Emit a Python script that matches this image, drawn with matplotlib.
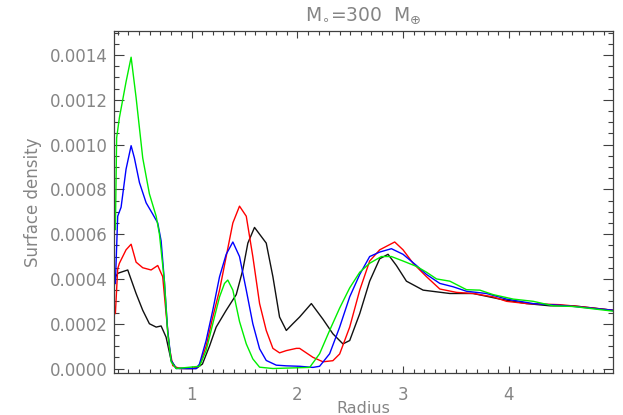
import matplotlib
matplotlib.use("Agg")
import matplotlib.pyplot as plt
from matplotlib.ticker import MultipleLocator, FormatStrFormatter
import numpy as np

# ---- data ----
radius_black = [0.267, 0.28, 0.30, 0.33, 0.394, 0.473, 0.536, 0.599, 0.663, 0.71, 0.757,
                0.805, 0.852, 0.95, 1.042, 1.101, 1.168, 1.231, 1.326, 1.421, 1.483, 1.531,
                1.594, 1.705, 1.768, 1.831, 1.895, 1.957, 2.021, 2.132, 2.242, 2.336, 2.431,
                2.495, 2.590, 2.684, 2.779, 2.858, 2.937, 3.032, 3.19, 3.443, 3.664, 3.917,
                4.17, 4.391, 4.611, 4.99]
sd_black = [3.7, 4.1, 4.25, 4.3, 4.4, 3.35, 2.6, 2.0, 1.85, 1.9, 1.4,
            0.36, 0.02, 0.0, 0.0, 0.2, 1.0, 1.85, 2.6, 3.3, 4.4, 5.6,
            6.3, 5.6, 4.1, 2.3, 1.7, 2.0, 2.3, 2.9, 2.2, 1.55, 1.1,
            1.25, 2.45, 3.9, 4.9, 5.1, 4.6, 3.9, 3.5, 3.35, 3.35, 3.1,
            2.9, 2.8, 2.8, 2.6]

radius_red = [0.267, 0.277, 0.299, 0.315, 0.378, 0.426, 0.473, 0.536, 0.615, 0.678, 0.725,
              0.757, 0.788, 0.820, 0.883, 1.009, 1.073, 1.136, 1.199, 1.263, 1.326, 1.389,
              1.452, 1.516, 1.578, 1.642, 1.705, 1.768, 1.831, 1.895, 1.990, 2.021, 2.147,
              2.242, 2.336, 2.400, 2.495, 2.590, 2.684, 2.779, 2.921, 3.000, 3.095, 3.222,
              3.348, 3.506, 3.664, 3.853, 3.980, 4.170, 4.491, 4.706, 4.99]
sd_red = [2.75, 2.45, 4.45, 4.7, 5.3, 5.55, 4.75, 4.5, 4.4, 4.6, 4.1,
          2.45, 0.95, 0.13, 0.0, 0.0, 0.13, 1.0, 2.3, 3.5, 5.0, 6.5,
          7.25, 6.8, 5.0, 2.9, 1.7, 0.9, 0.7, 0.8, 0.9, 0.9, 0.5,
          0.3, 0.35, 0.65, 1.85, 3.5, 4.8, 5.3, 5.65, 5.3, 4.7, 4.1,
          3.55, 3.4, 3.35, 3.2, 3.0, 2.9, 2.85, 2.75, 2.6]

radius_blue = [0.267, 0.277, 0.299, 0.331, 0.378, 0.426, 0.457, 0.505, 0.568, 0.630, 0.678,
               0.710, 0.741, 0.772, 0.805, 0.852, 1.042, 1.073, 1.136, 1.199, 1.263, 1.326,
               1.389, 1.452, 1.516, 1.578, 1.642, 1.705, 1.800, 1.895, 2.021, 2.147, 2.210,
               2.305, 2.400, 2.495, 2.590, 2.684, 2.779, 2.890, 3.000, 3.127, 3.222, 3.348,
               3.474, 3.601, 3.790, 3.980, 4.233, 4.549, 4.773, 4.99]
sd_blue = [4.0, 3.8, 6.8, 7.2, 8.9, 9.95, 9.4, 8.3, 7.4, 6.9, 6.5,
           5.7, 3.9, 1.7, 0.36, 0.0, 0.0, 0.2, 1.25, 2.6, 4.1, 5.1,
           5.65, 5.0, 3.5, 2.0, 0.88, 0.36, 0.15, 0.12, 0.1, 0.05, 0.1,
           0.66, 1.85, 3.2, 4.2, 5.0, 5.2, 5.35, 5.1, 4.6, 4.2, 3.8,
           3.65, 3.45, 3.35, 3.1, 2.9, 2.8, 2.7, 2.6]

radius_green = [0.267, 0.277, 0.289, 0.315, 0.378, 0.426, 0.473, 0.536, 0.599, 0.663, 0.694,
                0.741, 0.772, 0.805, 0.852, 1.073, 1.136, 1.199, 1.263, 1.310, 1.341, 1.389,
                1.452, 1.516, 1.578, 1.642, 1.768, 2.116, 2.210, 2.305, 2.400, 2.495, 2.590,
                2.684, 2.795, 2.890, 3.000, 3.127, 3.222, 3.317, 3.443, 3.601, 3.727, 3.853,
                4.043, 4.233, 4.422, 4.611, 4.99]
sd_green = [6.6, 6.2, 10.3, 11.2, 12.8, 13.9, 12.1, 9.4, 7.8, 6.8, 6.0,
            3.9, 1.6, 0.3, 0.0, 0.1, 0.8, 2.0, 3.2, 3.8, 3.95, 3.5,
            2.1, 1.1, 0.43, 0.06, 0.0, 0.05, 0.66, 1.7, 2.7, 3.6, 4.3,
            4.7, 5.0, 5.0, 4.8, 4.56, 4.3, 4.0, 3.9, 3.52, 3.5, 3.3,
            3.1, 3.0, 2.8, 2.77, 2.56]

value_scale = 1e-4
x_major_ticks = [1, 2, 3, 4]
title_text = r'M$_{\circ}$=300  M$_{\oplus}$'
xlabel_text = 'Radius'
ylabel_text = 'Surface density'

text_color = '#858585'
axis_color = '#404040'

plt.rcParams['font.family'] = ['DejaVu Sans']
fig = plt.figure(figsize=(6.23, 4.15), dpi=100)
ax = fig.add_axes([0.1835, 0.1012, 0.8009, 0.8230])

series = [(radius_black, sd_black, '#111111'),
          (radius_red, sd_red, '#ff0000'),
          (radius_blue, sd_blue, '#0000ff'),
          (radius_green, sd_green, '#00ee00')]
for r, sd, c in series:
    ax.plot(r, np.array(sd) * value_scale, color=c, lw=1.0)

ax.set_xlim(0.267, 4.99)
ax.set_ylim(-0.00002, 0.001505)

ax.set_xticks(x_major_ticks)
ax.xaxis.set_minor_locator(MultipleLocator(0.1))
ax.yaxis.set_major_locator(MultipleLocator(0.0002))
ax.yaxis.set_minor_locator(MultipleLocator(0.00005))
ax.yaxis.set_major_formatter(FormatStrFormatter('%.4f'))

for s in ax.spines.values():
    s.set_color(axis_color)
    s.set_linewidth(0.9)

ax.tick_params(axis='both', which='both', direction='in', top=True, right=True,
               color=axis_color, width=0.8, labelcolor=text_color, labelsize=12)
ax.tick_params(axis='x', which='major', length=5, pad=9)
ax.tick_params(axis='x', which='minor', length=3)
ax.tick_params(axis='y', which='major', length=7, pad=5)
ax.tick_params(axis='y', which='minor', length=3.5)

ax.set_title(title_text, color=text_color, fontsize=13.5, pad=8)
ax.set_xlabel(xlabel_text, color=text_color, fontsize=11.5)
ax.xaxis.set_label_coords(0.5, -0.083)
ax.set_ylabel(ylabel_text, color=text_color, fontsize=12, labelpad=5)

fig.savefig('out.png', dpi=100)
